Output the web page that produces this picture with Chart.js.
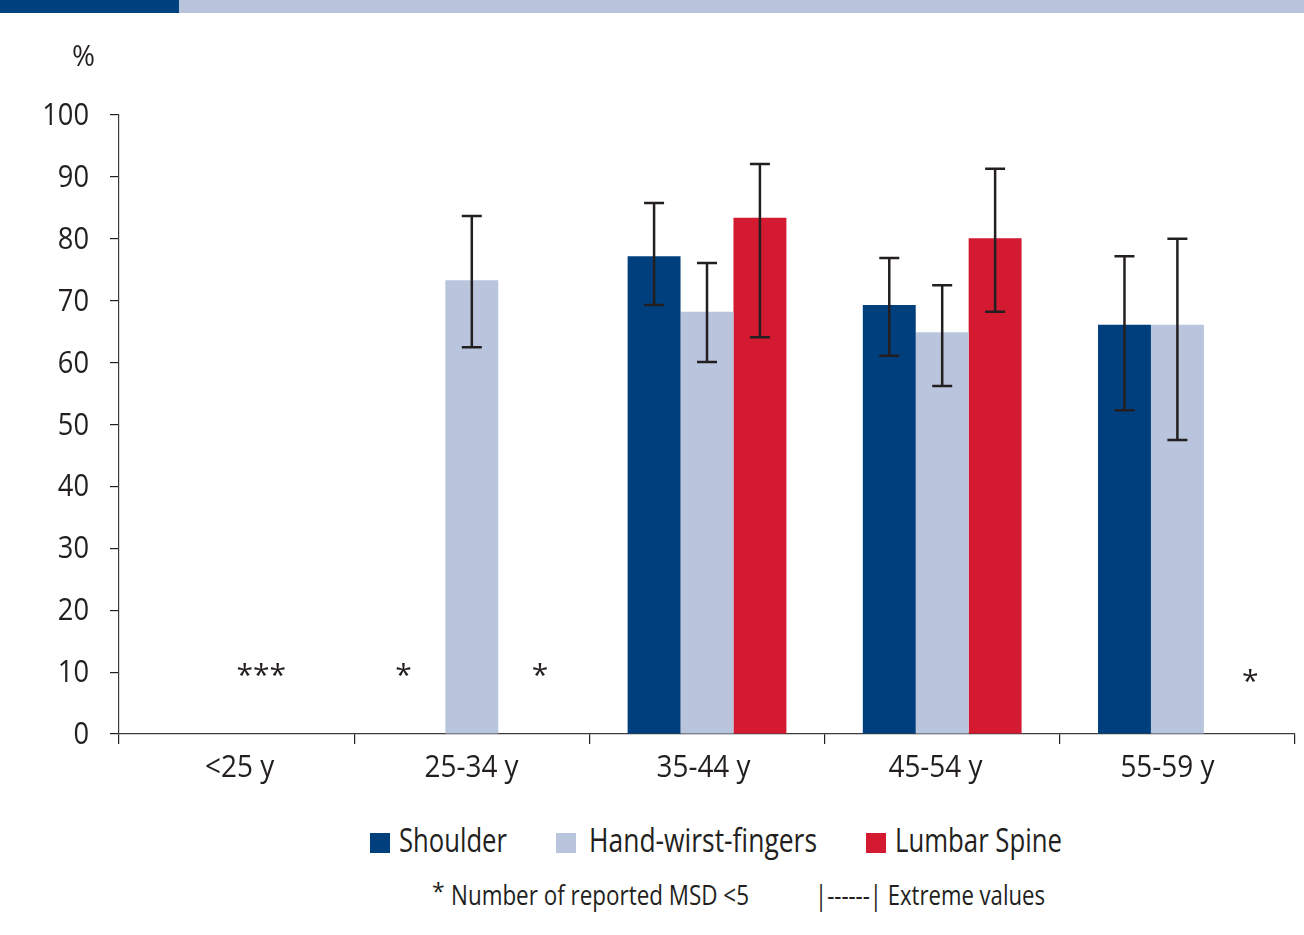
<!DOCTYPE html>
<html><head><meta charset="utf-8">
<script src="https://cdn.jsdelivr.net/npm/chart.js@4.4.1/dist/chart.umd.min.js"></script>
<style>
html,body{margin:0;padding:0;background:#fff;width:1304px;height:935px;overflow:hidden;position:relative;color:#231f20}
#bar1{position:absolute;left:0;top:0;width:179px;height:13px;background:#00427f}
#bar2{position:absolute;left:179px;top:0;width:1125px;height:13px;background:#b8c4dc}
#wrap{position:absolute;left:0;top:0;width:1304px;height:800px}
.t{position:absolute;white-space:nowrap;font-family:'Open Sans',sans-serif;transform-origin:0 0;}
.box{position:absolute;width:20px;height:20px}
</style></head>
<body>
<div id="wrap"><canvas id="c" width="1304" height="800"></canvas></div>
<div id="bar1"></div><div id="bar2"></div>
<div id="texts"></div>
<script>
const categories = ['<25 y', '25-34 y', '35-44 y', '45-54 y', '55-59 y'];
const seriesNames = ['Shoulder', 'Hand-wirst-fingers', 'Lumbar Spine'];
const shoulder = [null, null, 77.2, 69.3, 66.1];
const hand = [null, 73.3, 68.2, 64.9, 66.1];
const lumbar = [null, null, 83.4, 80.1, null];
const shoulderLow = [null, null, 69.3, 61.1, 52.3];
const shoulderHigh = [null, null, 85.8, 76.9, 77.2];
const handLow = [null, 62.5, 60.1, 56.2, 47.5];
const handHigh = [null, 83.7, 76.1, 72.5, 80.0];
const lumbarLow = [null, null, 64.1, 68.2, null];
const lumbarHigh = [null, null, 92.1, 91.3, null];
const yTicks = [0, 10, 20, 30, 40, 50, 60, 70, 80, 90, 100];
const yTitle = '%';
const noteCategories = ['<25 y', '25-34 y', '25-34 y', '55-59 y'];
const noteTexts = ['***', '*', '*', '*'];
const noteValues = [10, 10, 10, 9];
const footnote1 = 'Number of reported MSD <5';
const footnote2 = '|------| Extreme values';

const colors = ['#003f7d', '#b9c4dd', '#d31a31'];
const ink = '#231f20';

// HTML texts (legend, footnote, axis title), each squeezed to the reference width
const holder = document.getElementById('texts');
function addText(str, left, top, size, width) {
  const d = document.createElement('div');
  d.className = 't';
  d.style.left = left + 'px'; d.style.top = top + 'px';
  d.style.fontSize = size + 'px'; d.style.lineHeight = size + 'px';
  d.textContent = str;
  holder.appendChild(d);
  if (width) {
    const w = d.getBoundingClientRect().width;
    d.style.transform = 'scaleX(' + (width / w) + ')';
  }
  return d;
}
const legendBox = [370, 556, 866];
const legendText = [[399, 108], [589, 228], [895, 167]];
seriesNames.forEach((n, i) => {
  const b = document.createElement('div');
  b.className = 'box'; b.style.left = legendBox[i] + 'px'; b.style.top = '833px'; b.style.background = colors[i];
  holder.appendChild(b);
  addText(n, legendText[i][0], 824, 32, legendText[i][1]);
});
addText('*', 432, 880, 23, 0);
addText(footnote1, 451, 880, 28, 298);
addText(footnote2, 815, 880, 28, 230);
addText(yTitle, 72, 40, 30, 23);

const lows = [shoulderLow, handLow, lumbarLow];
const highs = [shoulderHigh, handHigh, lumbarHigh];

function squeezedText(ctx, str, x, y, sx) {
  ctx.save(); ctx.translate(x, y); ctx.scale(sx, 1); ctx.fillText(str, 0, 0); ctx.restore();
}

const extras = {
  id: 'extras',
  afterDraw(chart) {
    const ctx = chart.ctx, y = chart.scales.y, x = chart.scales.x;
    ctx.save();
    // error bars
    ctx.strokeStyle = ink; ctx.lineWidth = 2.5;
    chart.data.datasets.forEach((ds, i) => {
      const meta = chart.getDatasetMeta(i);
      meta.data.forEach((el, j) => {
        const lo = lows[i][j], hi = highs[i][j];
        if (lo == null || hi == null) return;
        const px = el.x, y1 = y.getPixelForValue(lo), y2 = y.getPixelForValue(hi);
        ctx.beginPath();
        ctx.moveTo(px, y1); ctx.lineTo(px, y2);
        ctx.moveTo(px - 10, y1); ctx.lineTo(px + 10, y1);
        ctx.moveTo(px - 10, y2); ctx.lineTo(px + 10, y2);
        ctx.stroke();
      });
    });
    ctx.fillStyle = ink;
    ctx.textBaseline = 'alphabetic';
    // y tick labels
    ctx.font = "31px 'Open Sans'";
    ctx.textAlign = 'right';
    y.ticks.forEach(t => {
      squeezedText(ctx, String(t.value), 89, y.getPixelForValue(t.value) + 10, 0.88);
    });
    // x tick labels (reference labels sit on a slightly tighter pitch than the categories)
    ctx.textAlign = 'center';
    categories.forEach((c, i) => {
      squeezedText(ctx, c, x.getPixelForValue(i) + 3 - 3.25 * i, y.bottom + 43, 0.9);
    });
    // asterisk notes
    const offs = [0.105, -0.29, 0.29, 0.31];
    ctx.font = "30px 'Open Sans'";
    const cw = x.getPixelForValue(1) - x.getPixelForValue(0);
    noteTexts.forEach((t, k) => {
      const idx = categories.indexOf(noteCategories[k]);
      const px = x.getPixelForValue(idx) + offs[k] * cw;
      ctx.fillText(t, px, y.getPixelForValue(noteValues[k]) + 13);
    });
    ctx.restore();
  }
};

new Chart(document.getElementById('c'), {
  type: 'bar',
  data: {
    labels: categories,
    datasets: [
      {label: seriesNames[0], data: shoulder, backgroundColor: colors[0]},
      {label: seriesNames[1], data: hand, backgroundColor: colors[1]},
      {label: seriesNames[2], data: lumbar, backgroundColor: colors[2]}
    ]
  },
  options: {
    responsive: false,
    animation: false,
    devicePixelRatio: 1,
    categoryPercentage: 0.675,
    barPercentage: 1.0,
    layout: {padding: {top: 115, right: 9, left: 0, bottom: 0}},
    plugins: {legend: {display: false}, tooltip: {enabled: false}},
    scales: {
      x: {
        afterFit(s) { s.height = 66; },
        grid: {drawOnChartArea: false, tickLength: 10, color: ink, lineWidth: 1.2, offset: true},
        border: {color: '#3c3c3e', width: 1.2},
        ticks: {display: false}
      },
      y: {
        min: 0, max: 100,
        afterFit(s) { s.width = 119; },
        afterBuildTicks(s) { s.ticks = yTicks.map(v => ({value: v})); },
        grid: {drawOnChartArea: false, tickLength: 9, color: ink, lineWidth: 1.2},
        border: {color: '#3c3c3e', width: 1.2},
        ticks: {display: false}
      }
    }
  },
  plugins: [extras]
});
</script>
</body></html>
